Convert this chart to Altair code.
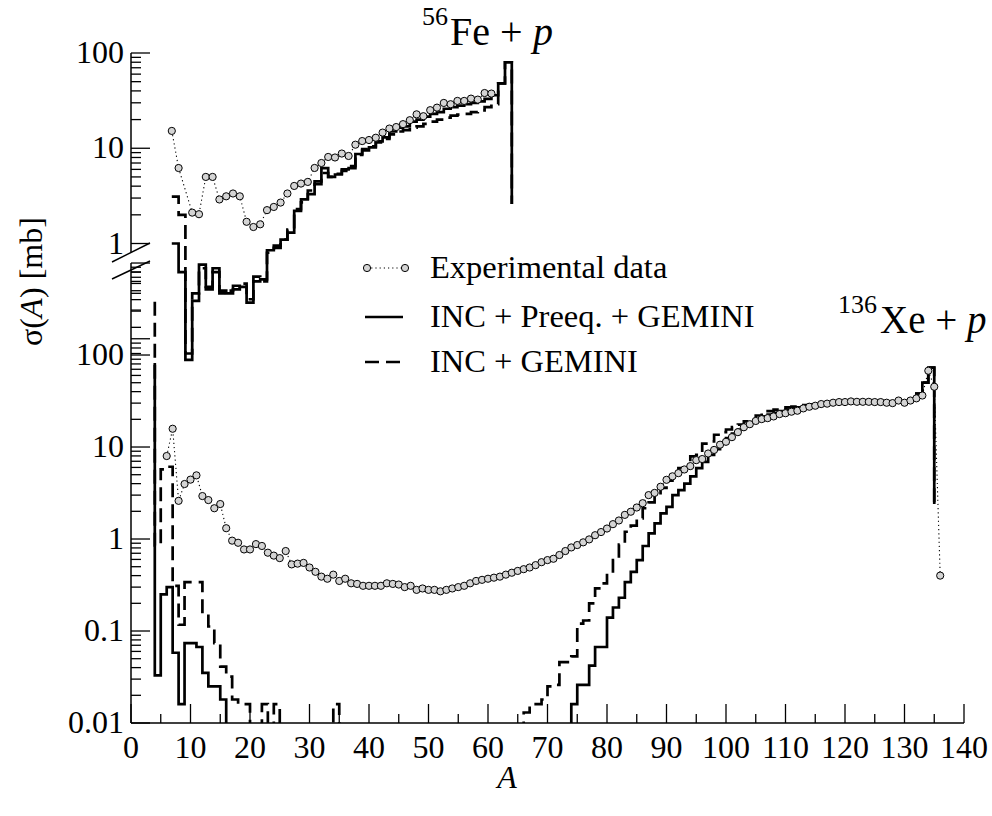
import altair as alt
import pandas as pd

FONT = "Liberation Serif"
W, H = 833, 670
TICK_FS = 32
LEG_FS = 32.5

# ---------------- data ----------------
# 56Fe + p (upper panel, own scales)
fe_exp_A = [6, 7, 9, 10, 11, 12, 13, 14, 15, 16, 17, 18, 19, 20, 21, 22, 23, 24, 25, 26,
            27, 28, 29, 30, 31, 32, 33, 34, 35, 36, 37, 38, 39, 40, 41, 42, 43, 44, 45, 46,
            47, 48, 49, 50, 51, 52, 53]
fe_exp_v = [15.2, 6.2, 2.11, 2.03, 5.0, 5.0, 2.9, 3.13, 3.35, 3.13, 1.69, 1.49, 1.59, 2.24,
            2.42, 2.69, 3.35, 4.02, 4.26, 4.43, 6.21, 7.0, 8.1, 8.0, 8.8, 8.3, 10.9, 11.9,
            12.2, 12.9, 14.6, 16.1, 16.7, 17.9, 19.7, 22.7, 21.7, 25.1, 26.7, 29.9, 29.0,
            31.4, 31.4, 33.2, 32.4, 38.0, 37.5]

fe_sim_A = list(range(6, 57))
fe_full_v = [1.0, 0.5, 0.06, 0.25, 0.6, 0.33, 0.55, 0.32, 0.3, 0.36, 0.35, 0.24, 0.4, 0.42,
             0.85, 0.9, 1.1, 1.3, 2.2, 2.9, 3.3, 4.5, 6.2, 5.0, 5.3, 6.0, 6.2, 8.7, 9.5,
             10.2, 11.8, 13, 15, 16.5, 17, 19, 20, 21.5, 23, 24, 26, 27, 28, 29, 30, 31,
             33, 36, 48, 80, 2.6]
fe_nopre_v = [3.1, 2.0, 0.07, 0.3, 0.55, 0.35, 0.5, 0.3, 0.32, 0.33, 0.38, 0.26, 0.45, 0.4,
              0.8, 0.95, 1.1, 1.4, 2.3, 2.7, 3.6, 4.2, 5.5, 5.0, 5.4, 5.8, 6.5, 8.5, 9.8,
              10.5, 11.5, 12.5, 14, 15, 15.5, 16.5, 17, 18, 19, 20, 21, 22, 22.5, 23, 24,
              25, 27, 29, 48, 80, 2.6]

# 136Xe + p (lower panel)
xe_exp_A = list(range(6, 137))
xe_exp_v = [7.98, 15.8, 2.6, 3.96, 4.42, 4.92, 2.93, 2.65, 2.16, 2.4, 1.31, 0.96, 0.91, 0.77,
            0.77, 0.88, 0.84, 0.71, 0.66, 0.62, 0.74, 0.53, 0.54, 0.55, 0.49, 0.44, 0.39,
            0.37, 0.41, 0.35, 0.37, 0.33, 0.325, 0.31, 0.31, 0.31, 0.31, 0.33, 0.325, 0.32,
            0.30, 0.31, 0.28, 0.29, 0.28, 0.28, 0.27, 0.28, 0.29, 0.30, 0.31, 0.33, 0.35,
            0.36, 0.37, 0.38, 0.39, 0.41, 0.43, 0.45, 0.47, 0.49, 0.52, 0.56, 0.59, 0.61,
            0.67, 0.74, 0.81, 0.86, 0.92, 0.99, 1.1, 1.19, 1.3, 1.45, 1.59, 1.83, 1.98, 2.2,
            2.45, 3.0, 3.17, 3.7, 4.4, 4.8, 5.2, 5.7, 6.2, 7.2, 7.4, 8.5, 9.3, 10.6, 11.4,
            12.8, 14.5, 16.4, 17.7, 19.2, 20.1, 20.6, 21.5, 22.8, 23.3, 24.2, 24.8, 26.3,
            27.4, 28.1, 29.3, 29.6, 30.3, 30.8, 30.8, 31.3, 31.0, 31.0, 31.0, 30.8, 30.8,
            30.3, 30.0, 32.0, 30.3, 32.0, 33.8, 36.3, 67.5, 45.2, 0.40]

xe_full_A = [4, 4, 5, 6, 7, 8, 9, 10, 11, 12, 13, 14, 15, 16, 74, 75, 76, 77, 78, 79, 80,
             81, 82, 83, 84, 85, 86, 87, 88, 89, 90, 91, 92, 93, 94, 95, 96, 97, 98, 99,
             100, 101, 102, 103, 104, 105, 106, 107, 108, 109, 110, 111, 112, 113, 114, 115,
             116, 117, 118, 119, 120, 121, 122, 123, 124, 125, 126, 127, 128, 129, 130, 131,
             132, 133, 134, 135]
xe_full_v = [82, 0.033, 0.25, 0.30, 0.058, 0.016, 0.074, 0.074, 0.067, 0.035, 0.025, 0.025,
             0.018, 0.001, 0.016, 0.026, 0.026, 0.042, 0.067, 0.067, 0.14, 0.18, 0.23, 0.34,
             0.44, 0.59, 0.84, 1.15, 1.48, 1.9, 2.24, 3.0, 3.4, 4.0, 4.8, 5.9, 6.9, 8.2, 9.5,
             11, 12.5, 14, 15.5, 17, 18.5, 20, 21.5, 22.5, 23.5, 24.5, 25.5, 26.5, 27, 28,
             28.5, 29, 29.5, 30, 30.5, 31, 31.5, 32, 32, 32, 32, 31.5, 31, 31, 30.5, 30.5, 31,
             33, 38, 50, 73, 2.4]

xe_nopre_A = [4, 4, 5, 6, 7, 8, 9, 10, 11, 12, 13, 14, 15, 16, 17, 18, 19, 20, 22, 23, 24,
              25, 34, 35, 66, 67, 68, 69, 70, 71, 72, 73, 74, 75, 76, 77, 78, 79, 80, 81, 82,
              83, 84, 85, 86, 87, 88, 89, 90, 91, 92, 93, 94, 95, 96, 97, 98, 99, 100, 101,
              102, 103, 104, 105, 106, 107, 108, 109, 110, 111, 112, 113, 114, 115, 116, 117,
              118, 119, 120, 121, 122, 123, 124, 125, 126, 127, 128, 129, 130, 131, 132, 133,
              134, 135]
xe_nopre_v = [380, 0.85, 5.7, 6.1, 0.31, 0.117, 0.34, 0.34, 0.34, 0.155, 0.112, 0.074, 0.041,
              0.032, 0.018, 0.016, 0.016, 0.001, 0.016, 0.001, 0.016, 0.001, 0.016, 0.001,
              0.013, 0.016, 0.016, 0.018, 0.025, 0.026, 0.046, 0.046, 0.053, 0.12, 0.13, 0.2,
              0.29, 0.33, 0.42, 0.59, 0.87, 1.2, 1.4, 1.68, 2.16, 2.5, 3.0, 3.6, 4.3, 5.0, 5.9,
              6.0, 7.9, 8.2, 10.9, 11.5, 13.6, 14.5, 15.5, 16.5, 17.5, 19, 20, 22, 23.3, 24.5,
              25.5, 26.5, 27, 27.5, 28, 28.5, 29, 29.5, 30, 30.5, 31, 31, 31.5, 32, 32, 32, 32,
              31.5, 31, 31, 30.5, 30.5, 31, 33, 38, 50, 73, 2.4]

# axis tick values / labels
x_major = list(range(0, 141, 10))
x_minor = list(range(5, 140, 10))
xe_y_major = [0.01, 0.1, 1, 10, 100, 1000]
xe_y_labels = ["0.01", "0.1", "1", "10", "100"]
fe_y_major = [0.1, 1, 10, 100]
fe_y_labels = ["1", "10", "100"]

# ---------------- scales ----------------
fe_xs = alt.Scale(domain=[0, 122.5], nice=False, zero=False)
fe_ys = alt.Scale(type="log", domain=[10 ** -5.034, 100], nice=False)
xe_xs = alt.Scale(domain=[0, 140], nice=False, zero=False)
xe_ys = alt.Scale(type="log", domain=[0.01, 10 ** 5.283], nice=False)


def df(**cols):
    return pd.DataFrame(cols)


def step(A, v, xs, ys, dash=None):
    d = df(A=A, v=v, i=list(range(len(A))))
    kw = dict(interpolate="step-after", color="black", strokeWidth=2.7, clip=True,
              strokeJoin="miter", strokeCap="butt")
    if dash:
        kw["strokeDash"] = dash
    return alt.Chart(d).mark_line(**kw).encode(
        x=alt.X("A:Q", scale=xs, axis=None),
        y=alt.Y("v:Q", scale=ys, axis=None),
        order="i:Q")


def exp_layers(A, v, xs, ys):
    d = df(A=A, v=v)
    ln = alt.Chart(d).mark_line(color="black", strokeWidth=1.1, strokeDash=[1.2, 3],
                                clip=True).encode(
        x=alt.X("A:Q", scale=xs, axis=None), y=alt.Y("v:Q", scale=ys, axis=None))
    pt = alt.Chart(d).mark_point(shape="circle", filled=True, size=52, fill="#d4d4d4",
                                 stroke="black", strokeWidth=1, opacity=1,
                                 fillOpacity=1, clip=True).encode(
        x=alt.X("A:Q", scale=xs, axis=None), y=alt.Y("v:Q", scale=ys, axis=None))
    return [ln, pt]


def minors(majors):
    out = []
    for m in majors:
        out += [m * k for k in range(2, 10)]
    return out


def yticks(vals, ys, length):
    return alt.Chart(df(v=vals)).mark_rule(color="black", strokeWidth=1.3).encode(
        y=alt.Y("v:Q", scale=ys, axis=None), x=alt.value(0), x2=alt.value(length))


def text_at(t, x, y, size=30, align="left", baseline="alphabetic", style="normal", angle=0):
    return alt.Chart(df(t=[t])).mark_text(
        font=FONT, fontSize=size, align=align, baseline=baseline, fontStyle=style,
        angle=angle, color="black").encode(x=alt.value(x), y=alt.value(y), text="t:N")


# ---------------- Fe layer ----------------
fe_layers = [
    step(fe_sim_A, fe_nopre_v, fe_xs, fe_ys, dash=[14, 7]),
    step(fe_sim_A, fe_full_v, fe_xs, fe_ys),
] + exp_layers(fe_exp_A, fe_exp_v, fe_xs, fe_ys)

fe_minor_vals = [v for v in minors([0.01, 0.1, 1, 10]) if (0.065 < v <= 0.5) or (1 < v < 100)]
fe_layers += [
    yticks([v for v in fe_y_major], fe_ys, 19),
    yticks(fe_minor_vals, fe_ys, 10),
    alt.Chart(df(v=fe_y_major[1:], t=fe_y_labels)).mark_text(
        font=FONT, fontSize=TICK_FS, align="right", baseline="middle", color="black").encode(
        y=alt.Y("v:Q", scale=fe_ys, axis=None), x=alt.value(-7), text="t:N"),
    # Fe axis line (from 100 down to the break)
    alt.Chart(df(v=[100])).mark_rule(color="black", strokeWidth=1.5).encode(
        y=alt.Y("v:Q", scale=fe_ys, axis=None), y2=alt.value(199), x=alt.value(0)),
]
fe_chart = alt.layer(*fe_layers)

# ---------------- Xe layer ----------------
xe_layers = [
    step(xe_nopre_A, xe_nopre_v, xe_xs, xe_ys, dash=[14, 7]),
    step(xe_full_A, xe_full_v, xe_xs, xe_ys),
] + exp_layers(xe_exp_A, xe_exp_v, xe_xs, xe_ys)

xe_minor_vals = minors([0.01, 0.1, 1, 10, 100])
xe_layers += [
    yticks(xe_y_major, xe_ys, 19),
    yticks(xe_minor_vals, xe_ys, 10),
    alt.Chart(df(v=xe_y_major[:-1], t=xe_y_labels)).mark_text(
        font=FONT, fontSize=TICK_FS, align="right", baseline="middle", color="black").encode(
        y=alt.Y("v:Q", scale=xe_ys, axis=None), x=alt.value(-7), text="t:N"),
    # Xe y-axis line from 1000 down to bottom
    alt.Chart(df(v=[1000])).mark_rule(color="black", strokeWidth=1.5).encode(
        y=alt.Y("v:Q", scale=xe_ys, axis=None), y2=alt.value(H), x=alt.value(0)),
    # x axis line
    alt.Chart(df(v=[0])).mark_rule(color="black", strokeWidth=1.5).encode(
        x=alt.X("v:Q", scale=xe_xs, axis=None), x2=alt.value(W), y=alt.value(H)),
    # x ticks
    alt.Chart(df(A=x_major)).mark_rule(color="black", strokeWidth=1.3).encode(
        x=alt.X("A:Q", scale=xe_xs, axis=None), y=alt.value(H), y2=alt.value(H - 19)),
    alt.Chart(df(A=x_minor)).mark_rule(color="black", strokeWidth=1.3).encode(
        x=alt.X("A:Q", scale=xe_xs, axis=None), y=alt.value(H), y2=alt.value(H - 9)),
    alt.Chart(df(A=x_major, t=[str(a) for a in x_major])).mark_text(
        font=FONT, fontSize=TICK_FS, align="center", baseline="middle", color="black").encode(
        x=alt.X("A:Q", scale=xe_xs, axis=None), y=alt.value(H + 25), text="t:N"),
    # axis break marks
    alt.Chart(df(k=[0])).mark_rule(color="black", strokeWidth=1.4).encode(
        x=alt.value(-19), y=alt.value(209), x2=alt.value(19), y2=alt.value(190)),
    alt.Chart(df(k=[0])).mark_rule(color="black", strokeWidth=1.4).encode(
        x=alt.value(-19), y=alt.value(226), x2=alt.value(19), y2=alt.value(208)),
    # axis titles
    text_at("A", 376, 725, size=32, align="center", baseline="middle", style="italic"),
    text_at("σ(", -99, 293, size=32, align="left", baseline="middle", angle=270),
    text_at("A", -99, 265, size=32, align="left", baseline="middle", angle=270, style="italic"),
    text_at(") [mb]", -99, 245, size=32, align="left", baseline="middle", angle=270),
    # panel titles
    text_at("56", 291, -28, size=26),
    text_at("Fe + ", 319, -8, size=40),
    text_at("p", 402, -8, size=40, style="italic"),
    text_at("136", 707, 260, size=26),
    text_at("Xe + ", 749, 280, size=39),
    text_at("p", 836, 280, size=39, style="italic"),
    # legend
    alt.Chart(df(k=[0])).mark_rule(color="black", strokeWidth=1.1, strokeDash=[1.2, 3]).encode(
        x=alt.value(236), x2=alt.value(274), y=alt.value(215)),
    alt.Chart(df(px=[236, 274])).mark_point(shape="circle", filled=True, size=52, fill="#d4d4d4",
                                            stroke="black", strokeWidth=1, opacity=1).encode(
        x=alt.X("px:Q", scale=None), y=alt.value(215)),
    text_at("Experimental data", 299, 215, size=LEG_FS, baseline="middle"),
    alt.Chart(df(k=[0])).mark_rule(color="black", strokeWidth=2.7).encode(
        x=alt.value(234), x2=alt.value(272), y=alt.value(264)),
    text_at("INC + Preeq. + GEMINI", 299, 264, size=LEG_FS, baseline="middle"),
    alt.Chart(df(k=[0])).mark_rule(color="black", strokeWidth=2.7, strokeDash=[14, 7]).encode(
        x=alt.value(234), x2=alt.value(272), y=alt.value(309)),
    text_at("INC + GEMINI", 299, 309, size=LEG_FS, baseline="middle"),
]
xe_chart = alt.layer(*xe_layers)

chart = alt.layer(fe_chart, xe_chart).resolve_scale(
    x="independent", y="independent"
).properties(
    width=W, height=H,
    padding={"left": 131, "top": 53, "right": 28, "bottom": 93},
    autosize=alt.AutoSizeParams(type="none"),
).configure_view(stroke=None)

chart.save("out.html", embed_options={"renderer": "svg", "actions": False})
